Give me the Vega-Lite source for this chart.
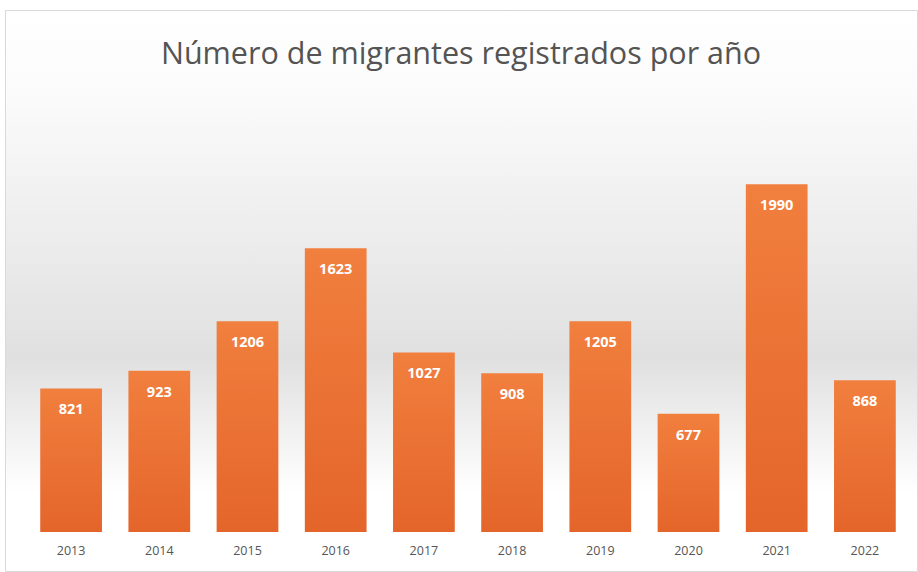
{
  "$schema": "https://vega.github.io/schema/vega-lite/v6.json",
  "width": 912,
  "height": 561,
  "autosize": "none",
  "padding": {"left": 5, "top": 10, "right": 1, "bottom": 1},
  "background": "white",
  "config": {
    "view": {
      "stroke": "#d9d9d9",
      "strokeWidth": 1,
      "fill": {
        "gradient": "linear", "x1": 0, "y1": 0, "x2": 0, "y2": 1,
        "stops": [
          {"offset": 0, "color": "#ffffff"},
          {"offset": 0.15, "color": "#fbfbfb"},
          {"offset": 0.62, "color": "#e0e0e0"},
          {"offset": 0.86, "color": "#ffffff"},
          {"offset": 1, "color": "#ffffff"}
        ]
      }
    }
  },
  "title": {
    "text": "Número de migrantes registrados por año",
    "font": "Open Sans",
    "fontSize": 30.5,
    "fontWeight": "normal",
    "color": "#545454",
    "anchor": "middle",
    "offset": -60
  },
  "data": {
    "values": [
      {"year": "2013", "value": 821},
      {"year": "2014", "value": 923},
      {"year": "2015", "value": 1206},
      {"year": "2016", "value": 1623},
      {"year": "2017", "value": 1027},
      {"year": "2018", "value": 908},
      {"year": "2019", "value": 1205},
      {"year": "2020", "value": 677},
      {"year": "2021", "value": 1990},
      {"year": "2022", "value": 868}
    ]
  },
  "encoding": {
    "x": {
      "field": "year", "type": "nominal", "sort": null,
      "scale": {"range": [22, 904], "paddingInner": 0.3, "paddingOuter": 0.15},
      "axis": {
        "title": null, "domain": false, "ticks": false, "labelAngle": 0,
        "offset": -30, "labelPadding": 3, "labelFont": "Open Sans",
        "labelFontSize": 12.5, "labelColor": "#555555"
      }
    },
    "y": {
      "field": "value", "type": "quantitative",
      "scale": {"domain": [0, 2500], "range": [522, 85], "nice": false},
      "axis": null
    }
  },
  "layer": [
    {
      "mark": {
        "type": "bar",
        "color": {
          "gradient": "linear", "x1": 0, "y1": 0, "x2": 0, "y2": 1,
          "stops": [
            {"offset": 0, "color": "#f17f3e"},
            {"offset": 1, "color": "#e4652a"}
          ]
        }
      }
    },
    {
      "mark": {
        "type": "text", "baseline": "middle", "dy": 22,
        "font": "Open Sans", "fontWeight": "bold", "fontSize": 14.5, "color": "white"
      },
      "encoding": {"text": {"field": "value", "type": "quantitative"}}
    }
  ]
}
